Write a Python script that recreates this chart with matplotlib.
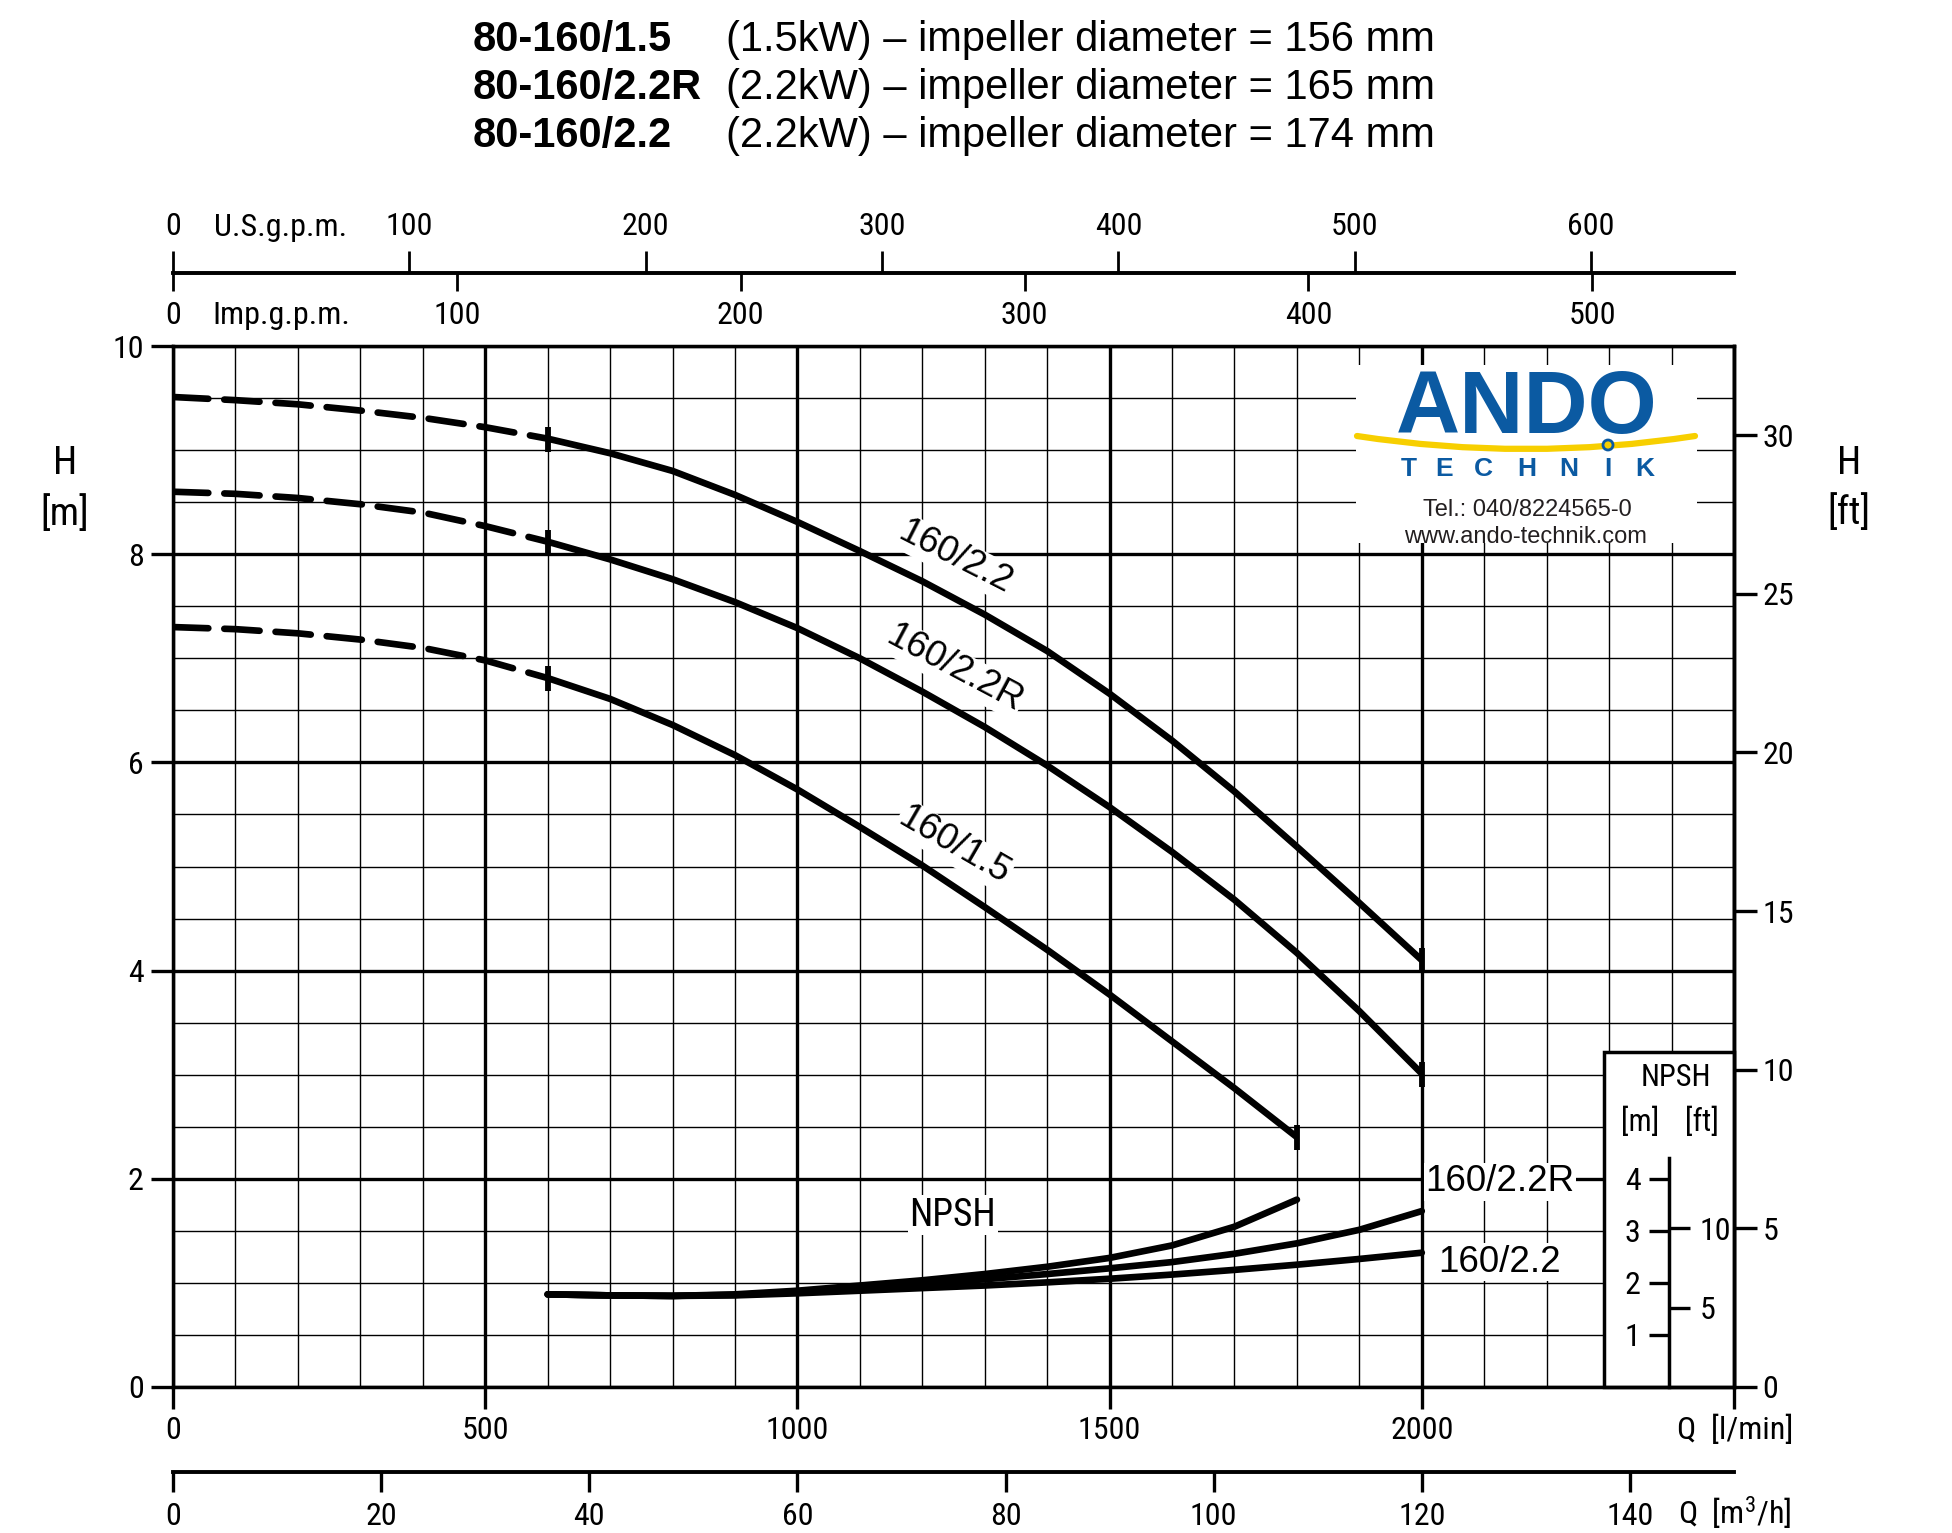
import numpy as np
import matplotlib
matplotlib.use("Agg")
import matplotlib.pyplot as plt
from matplotlib import font_manager
from matplotlib.patches import Rectangle, PathPatch, Circle
from matplotlib.path import Path
from matplotlib.transforms import Affine2D
from matplotlib.ticker import MultipleLocator


def pickFont(names):
    for name in names:
        try:
            font_manager.findfont(name, fallback_to_default=False)
            return name
        except ValueError:
            pass
    return "DejaVu Sans"


NARROW = pickFont(["Liberation Sans Narrow", "Roboto Condensed", "Open Sans Condensed", "Liberation Sans"])
SANS = pickFont(["Liberation Sans", "Arial", "DejaVu Sans"])
plt.rcParams["font.family"] = [NARROW, "DejaVu Sans"]
plt.rcParams["mathtext.default"] = "regular"

# ---- data (Q in l/min, H in m, NPSH in m) ----
q_head = [0, 100, 200, 300, 400, 500, 600, 700, 800, 900, 1000,
          1100, 1200, 1300, 1400, 1500, 1600, 1700, 1800, 1900, 2000]
h_160_22 = [9.51, 9.48, 9.44, 9.38, 9.31, 9.22, 9.11, 8.97, 8.80, 8.57, 8.31,
            8.03, 7.74, 7.42, 7.07, 6.66, 6.21, 5.72, 5.19, 4.65, 4.10]
h_160_22r = [8.60, 8.58, 8.54, 8.48, 8.40, 8.27, 8.12, 7.95, 7.76, 7.54, 7.29,
             7.00, 6.68, 6.34, 5.97, 5.57, 5.14, 4.68, 4.17, 3.61, 3.01]
q_head_15 = [0, 100, 200, 300, 400, 500, 600, 700, 800, 900, 1000,
             1100, 1200, 1300, 1400, 1500, 1600, 1700, 1800]
h_160_15 = [7.30, 7.28, 7.24, 7.18, 7.10, 6.98, 6.81, 6.61, 6.36, 6.07, 5.74,
            5.38, 5.01, 4.61, 4.20, 3.77, 3.32, 2.87, 2.40]
q_start = 600  # dashed below, solid from here on

q_npsh = [600, 700, 800, 900, 1000, 1100, 1200, 1300, 1400, 1500, 1600, 1700, 1800, 1900, 2000]
npsh_160_22r = [1.78, 1.76, 1.75, 1.77, 1.82, 1.90, 1.98, 2.07, 2.17, 2.28, 2.40, 2.56, 2.76, 3.02, 3.38]
npsh_160_22 = [1.78, 1.76, 1.75, 1.76, 1.80, 1.85, 1.90, 1.95, 2.01, 2.08, 2.16, 2.25, 2.35, 2.46, 2.58]
q_npsh_15 = [600, 700, 800, 900, 1000, 1100, 1200, 1300, 1400, 1500, 1600, 1700, 1800]
npsh_160_15 = [1.78, 1.76, 1.75, 1.78, 1.85, 1.95, 2.05, 2.17, 2.31, 2.48, 2.72, 3.08, 3.60]

title_models = ["80-160/1.5", "80-160/2.2R", "80-160/2.2"]
title_power = ["1.5kW", "2.2kW", "2.2kW"]
title_diam = [156, 165, 174]

q_ticks = [0, 500, 1000, 1500, 2000, 2500]
q_ticklabels = ["0", "500", "1000", "1500", "2000", ""]
m3h_ticks = [0, 20, 40, 60, 80, 100, 120, 140]
usgpm_ticks = [0, 100, 200, 300, 400, 500, 600]
impgpm_ticks = [0, 100, 200, 300, 400, 500]
ft_ticks = [0, 5, 10, 15, 20, 25, 30]
npsh_m_ticks = [1, 2, 3, 4]
npsh_ft_ticks = [5, 10]

M3H_PER_LMIN = 0.06
USGPM_PER_LMIN = 0.264172
IMPGPM_PER_LMIN = 0.219969
FT_PER_M = 3.28084
NPSH_PER_H = 2.0   # NPSH scale: 1 m of NPSH = 0.5 m on the H grid

W, H = 1952, 1533
DPI = 100
LW = 4.8
BLUE = "#0B5AA2"
YELLOW = "#F7CF00"

fig = plt.figure(figsize=(W / DPI, H / DPI), dpi=DPI)
PX = Affine2D().scale(1.0 / W, -1.0 / H).translate(0, 1) + fig.transFigure

AX_L, AX_R, AX_T, AX_B = 173, 1734, 346, 1387
ax = fig.add_axes([AX_L / W, 1 - AX_B / H, (AX_R - AX_L) / W, (AX_B - AX_T) / H])
ax.set_xlim(0, 2500)
ax.set_ylim(0, 10)
ax.xaxis.set_minor_locator(MultipleLocator(100))
ax.yaxis.set_major_locator(MultipleLocator(2))
ax.yaxis.set_minor_locator(MultipleLocator(0.5))
ax.set_xticks(q_ticks, q_ticklabels)
ax.grid(which="major", color="k", lw=2.4)
ax.grid(which="minor", color="k", lw=1.0)
ax.set_axisbelow(True)
ax.tick_params(which="minor", length=0)
ax.tick_params(which="major", direction="out", length=16, width=2.4, labelsize=23, pad=5,
               top=False, right=False)
for s in ax.spines.values():
    s.set_linewidth(2.5)

# secondary scales
sec_ft = ax.secondary_yaxis("right", functions=(lambda m: m * FT_PER_M, lambda f: f / FT_PER_M))
sec_ft.set_yticks(ft_ticks)
sec_ft.tick_params(direction="out", length=16.5, width=2.4, labelsize=23, pad=4)
sec_ft.spines["right"].set_linewidth(2.5)

sec_m3 = ax.secondary_xaxis(-(1472 - AX_B) / (AX_B - AX_T),
                            functions=(lambda q: q * M3H_PER_LMIN, lambda v: v / M3H_PER_LMIN))
sec_m3.set_xticks(m3h_ticks)
sec_m3.tick_params(direction="out", length=14.4, width=2.4, labelsize=23, pad=7)
sec_m3.spines["bottom"].set_linewidth(2.8)

top_loc = 1 + (AX_T - 273) / (AX_B - AX_T)
sec_us = ax.secondary_xaxis(top_loc, functions=(lambda q: q * USGPM_PER_LMIN, lambda v: v / USGPM_PER_LMIN))
sec_us.set_xticks(usgpm_ticks)
sec_us.tick_params(direction="out", length=16, width=2.0, labelsize=23, pad=7)
sec_us.spines["top"].set_linewidth(2.6)

sec_imp = ax.secondary_xaxis(top_loc, functions=(lambda q: q * IMPGPM_PER_LMIN, lambda v: v / IMPGPM_PER_LMIN))
sec_imp.set_alignment("bottom")
sec_imp.set_xticks(impgpm_ticks)
sec_imp.tick_params(direction="out", length=13, width=2.0, labelsize=23, pad=7)
sec_imp.spines["bottom"].set_linewidth(2.6)


def drawHead(q, h):
    q = np.asarray(q, float)
    h = np.asarray(h, float)
    dashed = q <= q_start
    solid = q >= q_start
    ax.plot(q[dashed], h[dashed], color="k", lw=LW, ls=(0, (5.3, 2.4)), dash_capstyle="round", zorder=4)
    ax.plot(q[solid], h[solid], color="k", lw=LW, solid_capstyle="butt", solid_joinstyle="round", zorder=4)
    ends = [int(solid.argmax()), len(q) - 1]
    ax.plot(q[ends], h[ends], ls="none", marker="|", ms=18, mew=4.2, color="k", zorder=5)


drawHead(q_head, h_160_22)
drawHead(q_head, h_160_22r)
drawHead(q_head_15, h_160_15)

# NPSH curves on their own scale
axn = ax.twinx()
axn.set_ylim(0, 10 * NPSH_PER_H)
axn.set_axis_off()
for q, n in [(q_npsh_15, npsh_160_15), (q_npsh, npsh_160_22r), (q_npsh, npsh_160_22)]:
    axn.plot(q, n, color="k", lw=LW, solid_capstyle="round", solid_joinstyle="round", zorder=4)

# curve labels
lab = dict(family=SANS, fontsize=26.5, ha="center", va="center", rotation_mode="anchor",
           bbox=dict(facecolor="white", edgecolor="none", pad=1), zorder=3)
ax.text(1252, 7.97, "160/2.2", rotation=-27, **lab)
ax.text(1251, 6.90, "160/2.2R", rotation=-28, **lab)
ax.text(1251, 5.20, "160/1.5", rotation=-30, **lab)
ax.text(2125, 1.97, "160/2.2R", **lab)
ax.text(2125, 1.20, "160/2.2", **lab)
ax.text(1249, 1.65, "NPSH", fontsize=27, ha="center", va="center",
        bbox=dict(facecolor="white", edgecolor="none", pad=1), zorder=3)

# NPSH scale box
box_x0 = (1604 - AX_L) / (AX_R - AX_L)
ax.add_patch(Rectangle((box_x0, 0), 1 - box_x0, (AX_B - 1052) / (AX_B - AX_T), transform=ax.transAxes,
                       facecolor="white", edgecolor="k", lw=2.5, zorder=2, clip_on=False))
NP_X, NP_TOP = 1669, 1158
axs = fig.add_axes([NP_X / W, 1 - AX_B / H, 0.3 / W, (AX_B - NP_TOP) / H])
axs.set_ylim(0, (AX_B - NP_TOP) / (AX_B - AX_T) * 10 * NPSH_PER_H)
axs.patch.set_visible(False)
for k in ["top", "bottom", "right"]:
    axs.spines[k].set_visible(False)
axs.spines["left"].set_linewidth(2.5)
axs.set_xticks([])
axs.set_yticks(npsh_m_ticks)
axs.tick_params(axis="y", direction="out", length=14.5, width=2.4, labelsize=23, pad=6)
axf = axs.twinx()
axf.set_ylim(0, axs.get_ylim()[1] * FT_PER_M)
for s in axf.spines.values():
    s.set_visible(False)
axf.set_yticks(npsh_ft_ticks)
axf.tick_params(axis="y", direction="out", length=15, width=2.4, labelsize=23, pad=7)
fig.text(1676, 1078, "NPSH", transform=PX, ha="center", va="center", size=22)
fig.text(1640, 1122, "[m]", transform=PX, ha="center", va="center", size=22)
fig.text(1702, 1122, "[ft]", transform=PX, ha="center", va="center", size=22)

# axis titles
fig.text(65, 463, "H", transform=PX, ha="center", va="center", size=28)
fig.text(65, 514, "[m]", transform=PX, ha="center", va="center", size=28)
fig.text(1849, 463, "H", transform=PX, ha="center", va="center", size=28)
fig.text(1849, 513, "[ft]", transform=PX, ha="center", va="center", size=28)
fig.text(1735, 1430, "Q  [l/min]", transform=PX, ha="center", va="center", size=23)
fig.text(1735, 1513, "Q  [m$^3$/h]", transform=PX, ha="center", va="center", size=23)
fig.text(214, 228, "U.S.g.p.m.", transform=PX, ha="left", va="center", size=23)
fig.text(212, 315, "Imp.g.p.m.", transform=PX, ha="left", va="center", size=23)

# title block
for i, (model, power, diam) in enumerate(zip(title_models, title_power, title_diam)):
    y = 51 + 48 * i
    fig.text(473, y, model, transform=PX, family=SANS, weight="bold", size=30, va="baseline")
    fig.text(726, y, "({}) \u2013 impeller diameter = {} mm".format(power, diam),
             transform=PX, family=SANS, size=30, va="baseline")

# logo
fig.add_artist(Rectangle((1356, 365), 341, 178, transform=PX, facecolor="white", edgecolor="none", zorder=2))
fig.text(1527, 433, "ANDO", transform=PX, ha="center", va="baseline", family=SANS,
         weight="bold", size=64, color=BLUE, zorder=3)
swoosh = Path([(1357, 436), (1526, 462), (1695, 436)], [Path.MOVETO, Path.CURVE3, Path.CURVE3])
fig.add_artist(PathPatch(swoosh, transform=PX, facecolor="none", edgecolor=YELLOW, lw=4.5,
                         capstyle="round", zorder=3))
fig.add_artist(Circle((1608, 445), 5, transform=PX, facecolor=YELLOW, edgecolor=BLUE, lw=2, zorder=4))
for ch, x in zip("TECHNIK", [1409, 1444, 1483, 1527, 1569, 1608, 1645]):
    fig.text(x, 476, ch, transform=PX, ha="center", va="baseline", family=SANS,
             weight="bold", size=19, color=BLUE, zorder=3)
fig.text(1527, 516, "Tel.: 040/8224565-0", transform=PX, ha="center", va="baseline",
         family=SANS, size=17, color="#231F20", zorder=3)
fig.text(1525, 543, "www.ando-technik.com", transform=PX, ha="center", va="baseline",
         family=SANS, size=17, color="#231F20", zorder=3)

fig.savefig("out.png", dpi=DPI, facecolor="white")
